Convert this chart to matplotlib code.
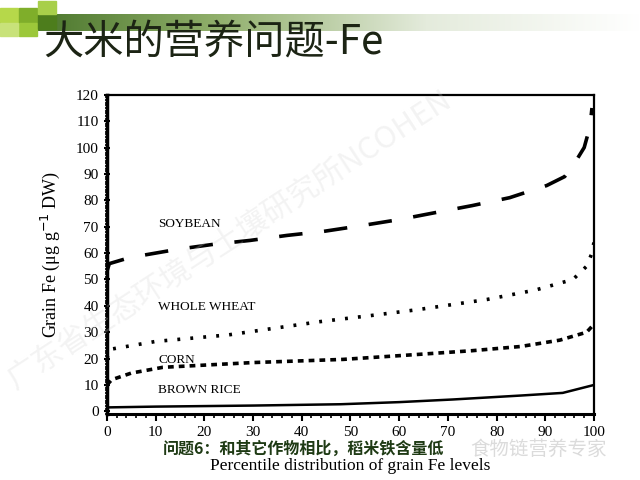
import numpy as np
import matplotlib
matplotlib.use("Agg")
import matplotlib.pyplot as plt
from matplotlib.ticker import MultipleLocator

# ── data ───────────────────────────────────────────────────────────────────
soy_x   = [0, 0.5, 4.7, 14.4, 21.8, 29.4, 37, 44.4, 52.6, 60, 67.6, 75, 82.7, 90.3, 94, 96.5, 98, 99.2, 99.6]
soy_y   = [53, 56, 58.3, 61.4, 63.3, 64.8, 66.7, 68.2, 70.5, 72.7, 75.4, 78, 81, 85.6, 89, 95.5, 100, 108, 115]

wheat_x = [0, 0.6, 10, 25, 43.7, 55, 64, 78, 88, 95.7, 98.5, 99.6, 100]
wheat_y = [20, 23.5, 26.5, 29, 34, 36.5, 38.6, 42.4, 46, 50, 55, 60, 64]

corn_x  = [0, 1, 5, 11.5, 30, 48.5, 64, 75, 85, 93, 98.5, 100]
corn_y  = [10, 12, 14.5, 16.7, 18.5, 19.7, 21.6, 23, 24.6, 27, 30, 33]

rice_x  = [0, 10, 30, 48, 60, 71, 85, 93.6, 100]
rice_y  = [1.5, 1.8, 2.2, 2.7, 3.5, 4.5, 6, 7, 10]

crops   = ["SOYBEAN", "WHOLE WHEAT", "CORN", "BROWN RICE"]
label_y = [71, 39.5, 19.5, 8]

title    = "大米的营养问题-Fe"
subtitle = "问题6：和其它作物相比，稻米铁含量低"

serif = ["Liberation Serif", "DejaVu Serif"]
cjk   = ["Noto Sans CJK SC", "DejaVu Sans"]

fig = plt.figure(figsize=(6.4, 4.8), dpi=100)
fig.patch.set_facecolor("white")

# header decoration: green gradient band + little squares
band = fig.add_axes([0.0, 0.935, 1.0, 0.035])
grad = np.linspace(0, 1, 256).reshape(1, -1)
band.imshow(grad, aspect="auto", cmap=matplotlib.colors.LinearSegmentedColormap.from_list(
    "g", ["#3d6b1f", "#8fae6a", "#e4ebdc", "#ffffff"]), extent=[0, 1, 0, 1])
band.axis("off")
for (x0, y0, c) in [(0.0, 0.955, "#b6d84a"), (0.030, 0.955, "#7fae2a"),
                    (0.030, 0.925, "#9cc83a"), (0.060, 0.940, "#4d7d1c"),
                    (0.0, 0.925, "#c8e27a"), (0.060, 0.970, "#a8cf4a")]:
    fig.patches.append(plt.Rectangle((x0, y0), 0.028, 0.028, transform=fig.transFigure,
                                     color=c, zorder=3))

fig.text(0.068, 0.912, title, family=cjk, fontsize=29, color="#1c2414", va="center")

ax = fig.add_axes([0.167, 0.1375, 0.761, 0.665])
ax.plot(soy_x, soy_y, color="black", lw=2.6, linestyle=(0, (6.5, 6)))
ax.plot(wheat_x, wheat_y, color="black", lw=2.6, linestyle=(0, (0.8, 2.8)))
ax.plot(corn_x, corn_y, color="black", lw=2.6, linestyle=(0, (1.6, 1.4)))
ax.plot(rice_x, rice_y, color="black", lw=1.8)

for name, yy in zip(crops, label_y):
    ax.text(10.5, yy, name, family=serif, fontsize=9.5, va="center", color="black")

ax.set_xlim(0, 100)
ax.set_ylim(-1, 120)
ax.xaxis.set_major_locator(MultipleLocator(10))
ax.xaxis.set_minor_locator(MultipleLocator(2))
ax.yaxis.set_major_locator(MultipleLocator(10))
ax.yaxis.set_minor_locator(MultipleLocator(1))
ax.tick_params(axis="both", which="major", direction="out", length=5, width=1.5, labelsize=11)
ax.tick_params(axis="both", which="minor", direction="out", length=3, width=1.2)
ax.tick_params(axis="y", which="both", direction="inout")
ax.tick_params(axis="x", which="major", pad=4)
for lab in ax.get_xticklabels() + ax.get_yticklabels():
    lab.set_family(serif)
ax.spines["left"].set_linewidth(2.5)
ax.spines["bottom"].set_linewidth(2.2)
ax.spines["top"].set_linewidth(1.6)
ax.spines["right"].set_linewidth(1.6)

ax.set_ylabel("Grain Fe (μg g$^{-1}$ DW)", family=serif, fontsize=13, labelpad=10)
ax.set_xlabel("Percentile distribution of grain Fe levels", family=serif, fontsize=12.5, labelpad=13)

fig.text(0.255, 0.066, subtitle, family=cjk, fontsize=11.5, fontweight="bold",
         color="#1e3a14", va="center")

# faint watermarks
fig.text(0.36, 0.50, "广东省生态环境与土壤研究所NCOHEN", family=cjk, fontsize=22,
         color="#d0d0d0", alpha=0.25, rotation=33, ha="center", va="center")
fig.text(0.735, 0.064, "食物链营养专家", family=cjk, fontsize=14, color="#b8b8b8",
         alpha=0.5, va="center")

fig.savefig("out.png", dpi=100, facecolor="white")
